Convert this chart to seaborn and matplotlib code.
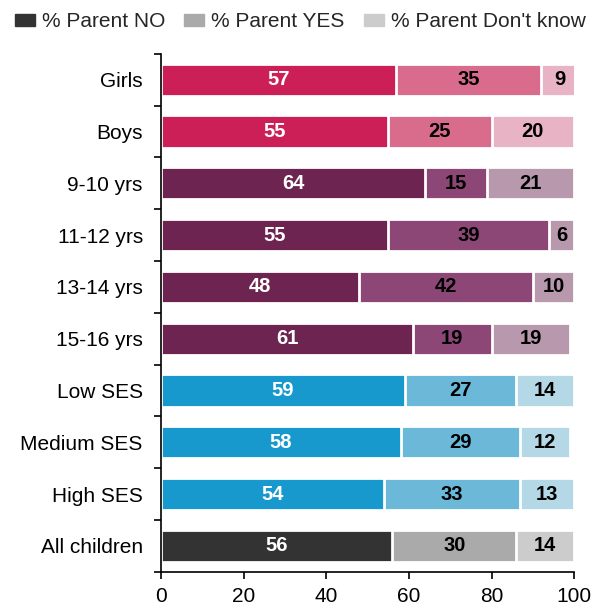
import matplotlib
matplotlib.use("Agg")
import matplotlib.pyplot as plt
import matplotlib.patches as mpatches
import numpy as np
import pandas as pd
import seaborn as sns

groups = ["Girls", "Boys", "9-10 yrs", "11-12 yrs", "13-14 yrs", "15-16 yrs",
          "Low SES", "Medium SES", "High SES", "All children"]
pct_no = [57, 55, 64, 55, 48, 61, 59, 58, 54, 56]
pct_yes = [35, 25, 15, 39, 42, 19, 27, 29, 33, 30]
pct_dk = [9, 20, 21, 6, 10, 19, 14, 12, 13, 14]
legend_labels = ["% Parent NO", "% Parent YES", "% Parent Don't know"]

gender_cols = ["#CC1F57", "#D96B8D", "#E8B3C5"]
age_cols = ["#6E2450", "#8D4777", "#B898AC"]
ses_cols = ["#1899CD", "#6BB8D9", "#B4D8E6"]
all_cols = ["#333333", "#AAAAAA", "#CCCCCC"]
row_cols = [gender_cols] * 2 + [age_cols] * 4 + [ses_cols] * 3 + [all_cols]

sns.set_theme(style="white")
plt.rcParams["font.family"] = ["Liberation Sans", "DejaVu Sans"]

df = pd.DataFrame({"group": groups, "no": pct_no, "yes": pct_yes, "dk": pct_dk})
df["cum_yes"] = df["no"] + df["yes"]
df["cum_dk"] = df["cum_yes"] + df["dk"]

fig = plt.figure(figsize=(6.05, 6.11), dpi=100)
ax = fig.add_axes([0.266, 0.064, 0.683, 0.848])

# stacked bars drawn back to front as cumulative totals
for col, k in [("cum_dk", 2), ("cum_yes", 1), ("no", 0)]:
    sns.barplot(data=df, x=col, y="group", hue="group",
                palette=[c[k] for c in row_cols], legend=False, orient="h",
                width=0.62, edgecolor="white", linewidth=2.0, ax=ax,
                saturation=1)

for i in range(len(groups)):
    starts = [0, pct_no[i], pct_no[i] + pct_yes[i]]
    vals = [pct_no[i], pct_yes[i], pct_dk[i]]
    for j, (s, v) in enumerate(zip(starts, vals)):
        ax.text(s + v / 2, i, str(v), ha="center", va="center",
                color="white" if j == 0 else "black",
                fontsize=14.5, fontweight="bold")

ax.set_xlim(0, 100)
ax.set_ylim(9.5, -0.5)
ax.set_xlabel("")
ax.set_ylabel("")
ax.set_xticks(range(0, 101, 20))
ax.set_yticks(range(len(groups)))
ax.set_yticks(np.arange(-0.5, 10, 1), minor=True)
ax.tick_params(axis="y", which="major", length=0, pad=13, labelsize=15)
ax.tick_params(axis="y", which="minor", length=5, width=1.2, color="black",
               direction="out", left=True)
ax.tick_params(axis="x", length=5, width=1.2, color="black", direction="out",
               bottom=True, labelsize=15, pad=6)
for s in ["top", "right"]:
    ax.spines[s].set_visible(False)
for s in ["left", "bottom"]:
    ax.spines[s].set_color("black")
    ax.spines[s].set_linewidth(1.2)
for lbl in ax.get_yticklabels() + ax.get_xticklabels():
    lbl.set_color("black")

handles = [mpatches.Patch(color=c) for c in ["#333333", "#AAAAAA", "#CCCCCC"]]
fig.legend(handles, legend_labels, loc="center left", bbox_to_anchor=(0.025, 0.964),
           ncol=3, frameon=False, fontsize=15, handlelength=0.96, handleheight=0.48,
           handletextpad=0.34, columnspacing=0.9, borderaxespad=0, borderpad=0)

fig.savefig("out.png", dpi=100)
